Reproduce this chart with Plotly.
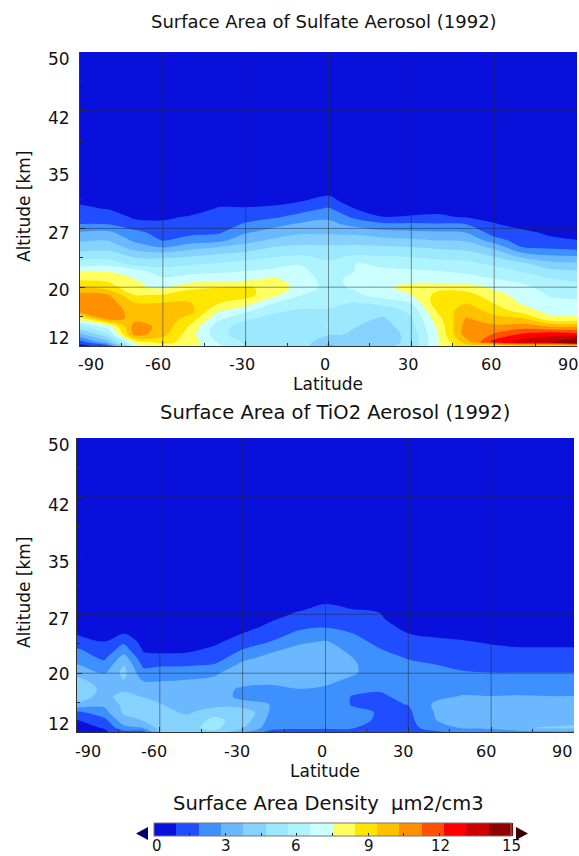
import plotly.graph_objects as go

W, H = 579, 856
ALT = [12.5, 13, 14, 15, 16, 17, 18, 19, 20, 21, 22, 23, 24, 25, 26, 27, 28, 29, 30, 31, 32, 33, 50]
TOP_LAT = [-90, -80, -70, -60, -50, -40, -30, -20, -10, 0, 10, 20, 30, 40, 50, 60, 70, 80, 90]
BOT_LAT = [-90, -80, -73, -66, -60, -50, -40, -30, -20, -10, 0, 10, 20, 30, 40, 50, 60, 70, 80, 90]

# Columns: one per latitude, from the lowest altitude upward
TOP_COLS = [
    [0.5, 1.5, 3.5, 5.5, 8, 11, 11, 10.6, 9.6, 8.3, 7.6, 6, 5.2, 4.3, 3.6, 2.9, 1.9, 1.5, 1.1, 0.8, 0.5, 0.4, 0.1],
    [1.5, 3.5, 5.5, 7, 10.8, 10.9, 10.8, 10.4, 8.9, 8.2, 7.5, 6.2, 5.2, 4.4, 3.7, 3, 1.9, 1.5, 0.9, 0.6, 0.4, 0.3, 0.1],
    [7, 8, 10.8, 10.8, 10, 9.9, 9.4, 8.4, 7.7, 7.5, 7, 5.3, 4.5, 3.4, 2.6, 2.1, 1.3, 0.75, 0.5, 0.4, 0.3, 0.2, 0.1],
    [8, 8.8, 9.7, 10, 10, 10, 9.4, 8.5, 7.3, 6.8, 6, 5.3, 4.4, 2.9, 1.8, 1.5, 1.1, 0.8, 0.5, 0.4, 0.3, 0.2, 0.1],
    [7.9, 8, 7.9, 8.3, 9, 9.7, 9.4, 8.9, 8.2, 7, 6.3, 5.5, 4.6, 3.5, 2.3, 1.6, 1.2, 1, 0.6, 0.4, 0.3, 0.2, 0.1],
    [6.8, 6.5, 6, 6, 6.8, 7.6, 8.5, 9, 8.4, 7.2, 6.4, 5.7, 4.9, 3.9, 2.5, 1.7, 1.4, 1.2, 1, 0.7, 0.4, 0.2, 0.1],
    [5.5, 5.5, 5, 5.2, 5.8, 6.8, 8, 8.8, 8.5, 7.3, 6.6, 5.9, 5.2, 4.2, 3.4, 2.7, 2, 1.5, 1, 0.7, 0.4, 0.2, 0.1],
    [5.2, 5.2, 5, 5, 5.3, 5.8, 6.6, 7.8, 8.3, 7.7, 6.8, 6.2, 5.5, 4.8, 3.9, 3.2, 2.5, 1.7, 1.1, 0.7, 0.4, 0.2, 0.1],
    [5.2, 5.2, 4.9, 5, 5.2, 5.5, 6, 6.6, 7, 7, 6.8, 6.5, 5.7, 5, 4.2, 3.6, 3, 2.2, 1.5, 0.9, 0.5, 0.3, 0.1],
    [3.5, 4, 4.8, 5.7, 5.4, 5.6, 5.7, 6, 6.3, 6.2, 6, 5.8, 5.4, 4.9, 4.2, 3.6, 3.1, 2.6, 2, 1.2, 0.8, 0.4, 0.1],
    [4.5, 4.6, 4.6, 4.7, 4.9, 5.3, 5.6, 6.4, 6.7, 6.9, 6.6, 6.6, 5.7, 5, 4.2, 3.5, 2.5, 1.6, 0.9, 0.5, 0.3, 0.2, 0.1],
    [4.5, 4.2, 4.2, 4.3, 4.6, 5, 6, 7, 7.2, 6.9, 6.8, 6.3, 5.6, 4.9, 4.1, 3.1, 2.1, 0.9, 0.6, 0.4, 0.3, 0.2, 0.1],
    [5, 5, 5, 5.3, 5.5, 5.9, 6.6, 7.5, 8, 7, 6.7, 6.2, 5.5, 4.8, 3.9, 3, 2.1, 1, 0.6, 0.4, 0.3, 0.2, 0.1],
    [7.6, 7.5, 7.6, 7.8, 8.2, 8.7, 9.2, 8.8, 8.1, 7, 6.6, 6, 5.3, 4.6, 3.7, 2.9, 2, 1.1, 0.6, 0.4, 0.3, 0.2, 0.1],
    [9, 9.8, 10.9, 10.8, 10.4, 9.9, 9.3, 8.8, 8, 6.9, 6.4, 5.9, 5.2, 4.4, 3.6, 2.8, 1.9, 0.8, 0.5, 0.4, 0.3, 0.2, 0.1],
    [8, 12.6, 11.3, 10.5, 9.7, 9, 8.4, 7.9, 7.3, 6.6, 6.1, 5.4, 4.6, 3.6, 2.3, 1.4, 1, 0.7, 0.5, 0.4, 0.3, 0.2, 0.1],
    [9, 13.6, 12.3, 10.7, 9.5, 8, 7.4, 7.1, 6.8, 6.3, 5.6, 4.9, 3.4, 1.95, 1.4, 1.1, 0.7, 0.5, 0.4, 0.3, 0.2, 0.2, 0.1],
    [8.5, 14, 12.8, 10.3, 7.8, 7.2, 6.8, 6.5, 6.2, 5.7, 5, 4.1, 2.9, 1.8, 1.1, 0.8, 0.5, 0.4, 0.3, 0.3, 0.2, 0.2, 0.1],
    [9, 15.5, 12.5, 10.2, 7.8, 7, 6.7, 6.4, 6, 5.4, 4.8, 3.9, 2.8, 1.6, 0.95, 0.7, 0.4, 0.3, 0.3, 0.2, 0.2, 0.2, 0.1],
]

BOT_COLS = [
    [0.4, 0.6, 0.9, 1.6, 3.6, 4.3, 4.4, 4.1, 3.5, 2.9, 2.3, 2, 1.3, 0.9, 0.5, 0.3, 0.2, 0.2, 0.2, 0.2, 0.1, 0.1, 0.1],
    [0.8, 1, 1.6, 2.5, 3, 3.3, 3.5, 3.2, 2.8, 2.2, 1.7, 1.3, 0.95, 0.6, 0.4, 0.3, 0.2, 0.2, 0.2, 0.2, 0.1, 0.1, 0.1],
    [1.5, 2.5, 3.4, 3.9, 4, 4.3, 3.4, 3.7, 4, 3.75, 3.2, 2.3, 1.7, 0.95, 0.5, 0.3, 0.2, 0.2, 0.2, 0.2, 0.1, 0.1, 0.1],
    [1.5, 2.8, 3.8, 4.2, 4.2, 3.7, 3.4, 2.8, 2.2, 1.7, 1.2, 0.85, 0.6, 0.4, 0.3, 0.3, 0.2, 0.2, 0.2, 0.2, 0.1, 0.1, 0.1],
    [3.9, 4.1, 4.2, 4.1, 3.8, 3.5, 3.3, 2.8, 2.3, 1.8, 1.1, 0.8, 0.5, 0.4, 0.3, 0.3, 0.2, 0.2, 0.2, 0.2, 0.1, 0.1, 0.1],
    [4.3, 4.5, 4.2, 3.6, 3.3, 3.2, 3.1, 2.9, 2.4, 1.8, 1.2, 0.8, 0.6, 0.4, 0.3, 0.3, 0.2, 0.2, 0.2, 0.2, 0.1, 0.1, 0.1],
    [4.5, 4.9, 4.9, 4.4, 3.4, 3.2, 3.1, 3, 2.7, 2, 1.4, 1.1, 0.8, 0.5, 0.4, 0.3, 0.2, 0.2, 0.2, 0.2, 0.1, 0.1, 0.1],
    [2.9, 3.8, 4.3, 4.6, 3.1, 2.6, 2.7, 3.1, 3.3, 3.1, 2.5, 1.9, 1.3, 0.97, 0.6, 0.3, 0.2, 0.2, 0.2, 0.2, 0.1, 0.1, 0.1],
    [1.5, 2.3, 2.5, 2.7, 2.8, 2.5, 2.6, 3, 3.4, 3.5, 3.1, 2.6, 1.9, 1.4, 1.1, 0.8, 0.4, 0.3, 0.2, 0.2, 0.1, 0.1, 0.1],
    [1.5, 2, 2.4, 2.7, 2.8, 2.6, 2.8, 3.2, 3.4, 3.6, 3.4, 3.1, 2.6, 2.1, 1.6, 1.2, 0.9, 0.4, 0.3, 0.2, 0.1, 0.1, 0.1],
    [1.5, 2, 2.3, 2.4, 2.5, 2.6, 2.7, 3, 3.5, 3.7, 3.6, 3.3, 2.9, 2.2, 1.8, 1.4, 1.1, 0.9, 0.4, 0.2, 0.1, 0.1, 0.1],
    [0.9, 1.9, 2.2, 2.1, 1.8, 1.8, 2.2, 2.6, 2.9, 2.9, 2.8, 2.5, 2.2, 1.9, 1.5, 1.2, 1, 0.6, 0.3, 0.2, 0.1, 0.1, 0.1],
    [1.2, 1.4, 1.7, 1.8, 1.7, 1.7, 2, 2.3, 2.4, 2.4, 2.2, 1.9, 1.6, 1.4, 1.2, 1, 0.9, 0.5, 0.3, 0.2, 0.1, 0.1, 0.1],
    [1.2, 1.5, 1.6, 1.7, 1.9, 2.2, 2.3, 2.3, 2.3, 2.1, 1.8, 1.5, 1.2, 0.95, 0.7, 0.5, 0.3, 0.2, 0.2, 0.2, 0.1, 0.1, 0.1],
    [1.7, 2.4, 2.8, 2.9, 3, 2.6, 2.5, 2.4, 2.1, 1.9, 1.6, 1.3, 1.1, 0.8, 0.5, 0.3, 0.2, 0.2, 0.2, 0.2, 0.1, 0.1, 0.1],
    [2.1, 2.9, 3.2, 3.4, 3.3, 2.9, 2.5, 2.3, 1.95, 1.7, 1.4, 1.2, 1, 0.7, 0.4, 0.3, 0.2, 0.2, 0.2, 0.2, 0.1, 0.1, 0.1],
    [2.2, 3, 3.4, 3.5, 3.3, 2.85, 2.4, 2.1, 1.9, 1.6, 1.3, 1.1, 0.85, 0.6, 0.4, 0.3, 0.2, 0.2, 0.2, 0.2, 0.1, 0.1, 0.1],
    [2.4, 3.7, 3.4, 3.5, 3.4, 2.9, 2.4, 2.1, 1.9, 1.6, 1.3, 1.05, 0.7, 0.5, 0.4, 0.3, 0.2, 0.2, 0.2, 0.2, 0.1, 0.1, 0.1],
    [2.6, 3.8, 3.5, 3.5, 3.3, 2.85, 2.4, 2.1, 1.9, 1.6, 1.3, 1.05, 0.7, 0.5, 0.4, 0.3, 0.2, 0.2, 0.2, 0.2, 0.1, 0.1, 0.1],
    [2.6, 3.9, 3.5, 3.5, 3.3, 2.85, 2.4, 2.1, 1.9, 1.6, 1.3, 1.05, 0.7, 0.5, 0.4, 0.3, 0.2, 0.2, 0.2, 0.2, 0.1, 0.1, 0.1],
]

COLORS = ["#0a10dc", "#1f4dff", "#3f90ff", "#6bb8ff", "#85d2ff", "#9be8ff", "#aef4ff", "#ccffff",
          "#ffff60", "#ffe600", "#ffc000", "#ff9000", "#ff5000", "#ff0000", "#cc0000", "#900000"]
X_TICKS = [-90, -60, -30, 0, 30, 60, 90]
X_MINOR = [-75, -45, -15, 15, 45, 75]
Y_TICKS = [12.5, 20, 27.5, 35, 42.5, 50]
Y_MINOR = [16.25, 23.75, 31.25, 38.75, 46.25]
Y_LABELS = ["12", "20", "27", "35", "42", "50"]
CB_TICKS = [0, 1.5, 3, 4.5, 6, 7.5, 9, 10.5, 12, 13.5, 15]
CB_LABELS = ["0", "3", "6", "9", "12", "15"]
TITLES = ["Surface Area of Sulfate Aerosol (1992)", "Surface Area of TiO2 Aerosol (1992)"]
CB_TITLE = "Surface Area Density  µm2/cm3"

FONT = "DejaVu Sans"
INK = "#111111"
n = len(COLORS)
scale = []
for i, c in enumerate(COLORS):
    scale += [[i / n, c], [(i + 1) / n, c]]


def transpose(cols):
    return [list(r) for r in zip(*cols)]


def px(x):
    return x / W


def py(y):
    return 1 - y / H


fig = go.Figure()
PANELS = [
    dict(lat=TOP_LAT, cols=TOP_COLS, xa="x", ya="y", L=80, R=577, T=52, B=346, title_x=324, title_y=22,
         title_size=18, lat_y=384, alt_y=206,
         xlab_x=[91, 158, 242, 325, 408, 491, 568], xlab_y=364,
         ylab_y=[338, 290, 233, 175, 118, 59]),
    dict(lat=BOT_LAT, cols=BOT_COLS, xa="x2", ya="y2", L=77, R=574, T=438, B=732, title_x=335, title_y=413,
         title_size=19.5, lat_y=771, alt_y=592,
         xlab_x=[88, 154, 237, 322, 403, 486, 562], xlab_y=751,
         ylab_y=[724, 674, 619, 562, 505, 445]),
]
ann = []
shapes = []
for i, p in enumerate(PANELS):
    fig.add_trace(go.Contour(
        x=p["lat"], y=ALT, z=transpose(p["cols"]), xaxis=p["xa"], yaxis=p["ya"],
        colorscale=scale, zmin=0, zmax=15, autocontour=False,
        contours=dict(start=0, end=15, size=15 / n, coloring="fill", showlines=False),
        line=dict(width=0), showscale=i == 0,
        colorbar=dict(orientation="h", x=px(154), xanchor="left", xref="paper",
                      y=py(840), yanchor="bottom", yref="paper",
                      len=357 / W, lenmode="fraction", thickness=13, thicknessmode="pixels",
                      outlinecolor="#777777", outlinewidth=1, ticks="inside", ticklen=3,
                      tickcolor="#222222", tickvals=CB_TICKS, showticklabels=False,
                      xpad=0, ypad=0),
    ))
    sfx = "" if i == 0 else "2"
    axis_common = dict(showgrid=False, zeroline=False, showticklabels=False, ticks="inside", ticklen=5,
                       tickcolor="#333333", showline=True, linecolor="#333333", linewidth=1)
    fig.update_layout(**{
        "xaxis" + sfx: dict(domain=[px(p["L"]), px(p["R"])], range=[-90, 90], tickvals=X_TICKS,
                            anchor="y" + sfx, minor=dict(ticks="inside", ticklen=3, tickvals=X_MINOR,
                                                         tickcolor="#333333"), **axis_common),
        "yaxis" + sfx: dict(domain=[py(p["B"]), py(p["T"])], range=[12.5, 50], tickvals=Y_TICKS,
                            anchor="x" + sfx, minor=dict(ticks="inside", ticklen=3, tickvals=Y_MINOR,
                                                         tickcolor="#333333"), **axis_common),
    })
    for v in X_TICKS[1:-1]:
        shapes.append(dict(type="line", xref=p["xa"], yref=p["ya"], x0=v, x1=v, y0=12.5, y1=50,
                           line=dict(color="rgba(40,40,40,0.5)", width=1), layer="above"))
    for v in Y_TICKS[1:-1]:
        shapes.append(dict(type="line", xref=p["xa"], yref=p["ya"], x0=-90, x1=90, y0=v, y1=v,
                           line=dict(color="rgba(40,40,40,0.5)", width=1), layer="above"))


def text(t, x, y, size, angle=0):
    ann.append(dict(text=t, x=px(x), y=py(y), xref="paper", yref="paper", showarrow=False,
                    xanchor="center", yanchor="middle", textangle=angle,
                    font=dict(family=FONT, size=size, color=INK)))


for i, p in enumerate(PANELS):
    text(TITLES[i], p["title_x"], p["title_y"], p["title_size"])
    text("Latitude", p["L"] + 248, p["lat_y"], 17)
    text("Altitude [km]", 24, p["alt_y"], 17, -90)
    for t, x in zip(X_TICKS, p["xlab_x"]):
        text(str(t), x, p["xlab_y"], 16)
    for t, y in zip(Y_LABELS, p["ylab_y"]):
        text(t, 59, y, 17)

text(CB_TITLE, 328, 803, 19.5)
for t, x in zip(CB_LABELS, [157, 226, 296, 369, 440, 511]):
    text(t, x, 846, 15)


def tri(x0, x1, color):
    path = f"M {px(x0)} {py(827)} L {px(x1)} {py(833.5)} L {px(x0)} {py(840)} Z"
    shapes.append(dict(type="path", xref="paper", yref="paper", path=path,
                       fillcolor=color, line=dict(width=0), layer="above"))


tri(148, 136, "#00006e")
tri(516, 528, "#3a0000")

fig.update_layout(width=W, height=H, margin=dict(l=0, r=0, t=0, b=0), paper_bgcolor="white",
                  plot_bgcolor="white", annotations=ann, shapes=shapes, showlegend=False)
fig.write_html("out.html", post_script="document.body.style.margin='0';",
               config=dict(displayModeBar=False))
